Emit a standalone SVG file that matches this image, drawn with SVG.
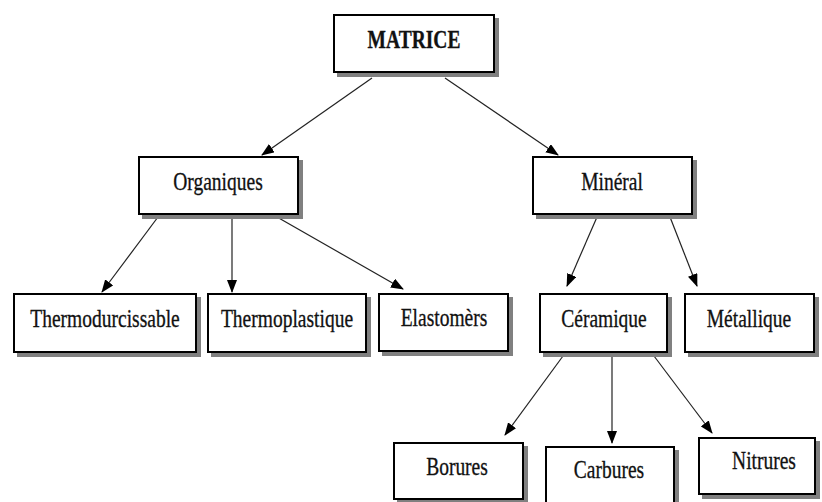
<svg xmlns="http://www.w3.org/2000/svg" width="822" height="502" viewBox="0 0 822 502">
<style>
.box{fill:#fff;stroke:#000;stroke-width:2}
.sh{fill:#808080}
.t{font-family:"Liberation Serif","Times New Roman",serif;font-size:19.5px;fill:#111;stroke:#111;stroke-width:0.25;text-anchor:middle}
.b{font-weight:bold}
.c{stroke:#222;stroke-width:1.2;fill:none;marker-end:url(#ah)}
</style>
<defs>
<marker id="ah" markerUnits="userSpaceOnUse" markerWidth="13" markerHeight="10" viewBox="0 0 13 10" refX="12" refY="5" orient="auto">
<path d="M0,0 L13,5 L0,10 Z" fill="#000"/>
</marker>
</defs>
<rect width="822" height="502" fill="#fff"/>
<g id="connectors">
<line class="c" x1="372" y1="78" x2="262" y2="155"/>
<line class="c" x1="445" y1="78" x2="558" y2="155"/>
<line class="c" x1="158" y1="217" x2="102" y2="292"/>
<line class="c" x1="232" y1="217" x2="232" y2="292"/>
<line class="c" x1="277" y1="217" x2="403" y2="289"/>
<line class="c" x1="597" y1="217" x2="567" y2="286"/>
<line class="c" x1="670" y1="217" x2="697" y2="286"/>
<line class="c" x1="563" y1="356" x2="505" y2="435"/>
<line class="c" x1="612" y1="356" x2="612" y2="443"/>
<line class="c" x1="654" y1="356" x2="712" y2="433"/>
</g>
<g id="matrice">
<rect class="sh" x="337" y="18" width="162" height="59"/>
<rect class="box" x="334" y="15" width="160" height="57"/>
<text class="t b" transform="translate(414,48) scale(1,1.3)">MATRICE</text>
</g>
<g id="organiques">
<rect class="sh" x="142" y="160" width="161" height="59"/>
<rect class="box" x="139" y="157" width="159" height="57"/>
<text class="t" transform="translate(218,190) scale(1,1.3)">Organiques</text>
</g>
<g id="mineral">
<rect class="sh" x="536" y="160" width="161" height="59"/>
<rect class="box" x="533" y="157" width="159" height="57"/>
<text class="t" transform="translate(612,190) scale(1,1.3)">Minéral</text>
</g>
<g id="thermodurcissable">
<rect class="sh" x="17" y="297" width="184" height="60"/>
<rect class="box" x="14" y="294" width="182" height="58"/>
<text class="t" transform="translate(105,327) scale(1,1.3)">Thermodurcissable</text>
</g>
<g id="thermoplastique">
<rect class="sh" x="211" y="297" width="160" height="60"/>
<rect class="box" x="208" y="294" width="158" height="58"/>
<text class="t" transform="translate(287,327) scale(1,1.3)">Thermoplastique</text>
</g>
<g id="elastomers">
<rect class="sh" x="382" y="297" width="131" height="59"/>
<rect class="box" x="379" y="294" width="129" height="57"/>
<text class="t" transform="translate(444,326) scale(1,1.3)">Elastomèrs</text>
</g>
<g id="ceramique">
<rect class="sh" x="543" y="297" width="129" height="60"/>
<rect class="box" x="540" y="294" width="127" height="58"/>
<text class="t" transform="translate(604,327) scale(1,1.3)">Céramique</text>
</g>
<g id="metallique">
<rect class="sh" x="688" y="297" width="131" height="60"/>
<rect class="box" x="685" y="294" width="129" height="58"/>
<text class="t" transform="translate(749,327) scale(1,1.3)">Métallique</text>
</g>
<g id="borures">
<rect class="sh" x="397" y="446" width="131" height="58"/>
<rect class="box" x="394" y="443" width="129" height="56"/>
<text class="t" transform="translate(457,475) scale(1,1.3)">Borures</text>
</g>
<g id="carbures">
<rect class="sh" x="549" y="450" width="130" height="60"/>
<rect class="box" x="546" y="447" width="128" height="58"/>
<text class="t" transform="translate(609,478) scale(1,1.3)">Carbures</text>
</g>
<g id="nitrures">
<rect class="sh" x="702" y="441" width="118" height="58"/>
<rect class="box" x="699" y="438" width="116" height="56"/>
<text class="t" transform="translate(764,469) scale(1,1.3)">Nitrures</text>
</g>
</svg>
